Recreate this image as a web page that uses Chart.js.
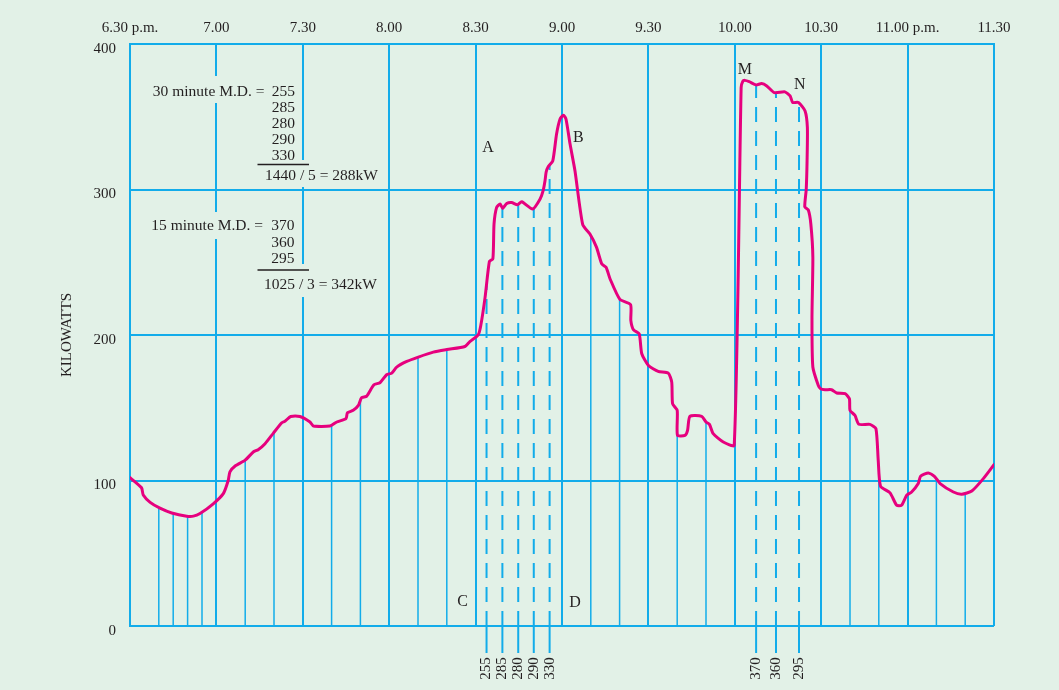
<!DOCTYPE html>
<html><head><meta charset="utf-8">
<script src="https://cdn.jsdelivr.net/npm/chart.js@4.4.1/dist/chart.umd.min.js"></script>
<style>html,body{margin:0;padding:0;background:#e2f1e7;}canvas{display:block;}</style>
</head><body>
<canvas id="c" width="1059" height="690"></canvas>
<script>
// ---- data ----
const tickMinutes = [0,30,60,90,120,150,180,210,240,270,300];
const timeLabels = ['6.30 p.m.','7.00','7.30','8.00','8.30','9.00','9.30','10.00','10.30','11.00 p.m.','11.30'];
// load curve: minutes after 6.30 p.m. and kW
const loadTimes = [0,4,4.6,7,10.4,14.5,19.7,22,24.3,28.9,32.4,34.1,34.7,36.5,40,42.8,44.5,46.9,49.8,52.7,53.8,55.8,59,62.5,63.7,69.4,71.8,75,75.5,77.5,79.3,80.4,82.2,84.7,86.8,89.1,90.9,92.6,96.1,100.1,105.3,110,116.3,118,120.9,121.8,123.3,124.8,126,126.4,127.3,128.5,129.4,130.8,132.5,134.5,136,139.8,142.4,143.5,144.1,144.5,145.2,146.8,148.1,149.3,150.5,151.4,152.8,154.5,157.2,159.7,162,163.8,165.3,166.7,170.1,173.8,173.9,174.8,176.8,177.7,180,183.4,186.9,188.1,188.4,190,190.1,192.7,193.6,194.4,198.5,200,201.2,202.5,206,209.8,212.2,212.8,213.5,215,217.4,219.3,221.1,223.7,227.4,229.2,230.1,232.1,234.4,235.2,235.1,234.8,234.3,235.5,236.4,237.1,236.8,237.1,239,239.8,241.3,243.6,245.4,248.3,249.8,250,251.7,253.1,256.9,259,259.8,260.6,263.9,266.2,267.9,269.7,271.4,273.7,274.5,277.2,279.3,281.3,285.9,288.8,292.3,296.3,300];
const loadKW = [102,95,90,85,81,77.7,75.5,75.5,77.3,84,91,100,106,110,114,119.6,121.2,125.3,132.6,139.7,140.7,144,144,140.2,137.4,137.4,140.2,142.5,146.6,148.2,151.6,156.9,158,165.8,167.2,172.7,173.8,177.9,181.8,184.8,188.2,190,192.1,195.5,200.1,206.5,226,250.6,252.3,276.3,287.7,290,287,290.4,291.1,289.5,291.6,286.6,293.5,299.6,306,312,315.6,319.7,338,348.3,351.1,348.3,331.2,312.9,275.8,269.4,260.2,248.9,246.5,238.5,224.5,220.9,210,203.6,200.8,187.1,179.1,175,173.8,167.6,152.8,148.2,131,131,134.5,144.1,144.1,140.2,138.6,132.2,126.5,124.2,370,374.5,375,374.1,371.9,372.8,371.2,366.6,367.1,364.3,359.8,359.8,354,342.6,320,300,288,286,276.3,253.4,212,178,165.3,163.1,162.4,162.4,160.1,159.7,156.2,148.2,144.8,138.6,138.6,135.6,113.9,96.1,91.5,83,83,89.9,92.1,97.9,102.9,105.2,102.9,97.9,92.1,90.6,92.8,101.3,110.9];
// ordinates (solid) and maximum-demand ordinates (dashed)
const ordinateTimes = [10,15,20,25,40,50,70,80,100,110,160,170,190,200,250,260,280,290];
const md30Times = [123.8,129.3,134.8,140.2,145.7];
const md30Values = ['255','285','280','290','330'];
const md15Times = [217.4,224.3,232.3];
const md15Values = ['370','360','295'];
const letters = ['A','B','C','D','M','N'];
const letterTimes = [124.3,155.7,115.5,154.5,213.5,232.6];
const letterKW = [328.6,335.7,16.3,15.8,382.2,371.9];
const block30 = {head:'30 minute M.D. =', result:'1440 / 5 = 288kW'};
const block15 = {head:'15 minute M.D. =', result:'1025 / 3 = 342kW'};

// ---- styles ----
const BG = '#e2f1e7', BLUE = '#12acea', MAG = '#e6007e', TXT = '#231f20';
const SERIF = '"Liberation Serif", "Times New Roman", serif';

function curveAt(t){
  for (let i=0;i<loadTimes.length-1;i++){
    const a=loadTimes[i], b=loadTimes[i+1];
    if ((t>=a && t<=b) || (t<=a && t>=b)){
      if (a===b) return loadKW[i];
      return loadKW[i] + (loadKW[i+1]-loadKW[i])*(t-a)/(b-a);
    }
  }
  return 0;
}

const datasets = [{
  data: loadTimes.map((t,i)=>({x:t,y:loadKW[i]})),
  borderColor: MAG, borderWidth: 3, pointRadius: 0, showLine: true, tension: 0.2,
  borderJoinStyle: 'round', borderCapStyle: 'round', order: 0
}];
ordinateTimes.forEach(t=>datasets.push({
  data:[{x:t,y:0},{x:t,y:curveAt(t)}], borderColor:BLUE, borderWidth:1.5, pointRadius:0, showLine:true, order:1
}));
md30Times.concat(md15Times).forEach(t=>datasets.push({
  data:[{x:t,y:0},{x:t,y:curveAt(t)}], borderColor:BLUE, borderWidth:2, borderDash:[15,9], pointRadius:0, showLine:true, order:1
}));

const annot = {
  id:'annot',
  beforeDatasetsDraw(chart){
    const ctx = chart.ctx;
    ctx.save();
    ctx.fillStyle = BG;
    ctx.fillRect(147,76,119,27);
    ctx.fillRect(256,160,124,27);
    ctx.fillRect(147,212,119,27);
    ctx.fillRect(256,264,124,33);
    ctx.fillStyle = TXT;
    ctx.font = '15.5px ' + SERIF;
    ctx.textBaseline = 'middle';
    ctx.textAlign = 'right';
    ctx.fillText(block30.head, 264.5, 92);
    const y30 = [92,108,124,140,156];
    md30Values.forEach((v,i)=>ctx.fillText(v, 295, y30[i]));
    ctx.fillText(block15.head, 263, 226);
    const y15 = [226,242.5,259];
    md15Values.forEach((v,i)=>ctx.fillText(v, 294.5, y15[i]));
    ctx.textAlign = 'left';
    ctx.fillText(block30.result, 265, 175.5);
    ctx.fillText(block15.result, 264, 284.5);
    ctx.strokeStyle = TXT; ctx.lineWidth = 1.5;
    ctx.beginPath();
    ctx.moveTo(257.5,164.5); ctx.lineTo(309,164.5);
    ctx.moveTo(257.5,270); ctx.lineTo(309,270);
    ctx.stroke();
    ctx.restore();
  },
  afterDraw(chart){
    const ctx = chart.ctx, xs = chart.scales.x, ys = chart.scales.y;
    const bottom = chart.chartArea.bottom;
    ctx.save();
    // stubs and rotated value labels below the axis
    const all = md30Times.map((t,i)=>[t,md30Values[i]]).concat(md15Times.map((t,i)=>[t,md15Values[i]]));
    ctx.strokeStyle = BLUE; ctx.lineWidth = 2;
    all.forEach(([t,v])=>{
      const x = xs.getPixelForValue(t);
      ctx.beginPath(); ctx.moveTo(x,bottom); ctx.lineTo(x,653); ctx.stroke();
      ctx.save();
      ctx.translate(x,668.5); ctx.rotate(-Math.PI/2);
      ctx.fillStyle = TXT; ctx.font = '15px ' + SERIF;
      ctx.textAlign='center'; ctx.textBaseline='middle';
      ctx.fillText(v,0,0);
      ctx.restore();
    });
    // point letters
    ctx.fillStyle = TXT; ctx.font = '16px ' + SERIF;
    ctx.textAlign='center'; ctx.textBaseline='middle';
    letters.forEach((L,i)=>ctx.fillText(L, xs.getPixelForValue(letterTimes[i]), ys.getPixelForValue(letterKW[i])));
    ctx.restore();
  }
};

new Chart(document.getElementById('c'), {
  type:'scatter',
  data:{datasets},
  plugins:[annot],
  options:{
    responsive:false, animation:false, devicePixelRatio:1,
    layout:{padding:{left:0,top:0,right:65,bottom:64}},
    plugins:{legend:{display:false}, tooltip:{enabled:false}},
    scales:{
      x:{type:'linear', position:'top', min:0, max:300,
        afterBuildTicks:s=>{ s.ticks = tickMinutes.map(v=>({value:v})); },
        ticks:{callback:(v)=>timeLabels[tickMinutes.indexOf(v)], font:{family:SERIF,size:15}, color:TXT, padding:7, maxRotation:0, autoSkip:false},
        grid:{color:BLUE, lineWidth:2, drawTicks:false},
        border:{color:BLUE, width:2},
        afterFit:s=>{ s.height = 44; s.paddingLeft = 0; s.paddingRight = 0; }
      },
      y:{min:0, max:400,
        ticks:{stepSize:100, font:{family:SERIF,size:15}, color:TXT, padding:14, labelOffset:5},
        grid:{color:BLUE, lineWidth:2, drawTicks:false},
        border:{color:BLUE, width:2},
        title:{display:true, text:'KILOWATTS', font:{family:SERIF,size:15}, color:TXT, padding:{top:58,bottom:0}},
        afterFit:s=>{ s.width = 130; }
      }
    }
  }
});
</script>
</body></html>
